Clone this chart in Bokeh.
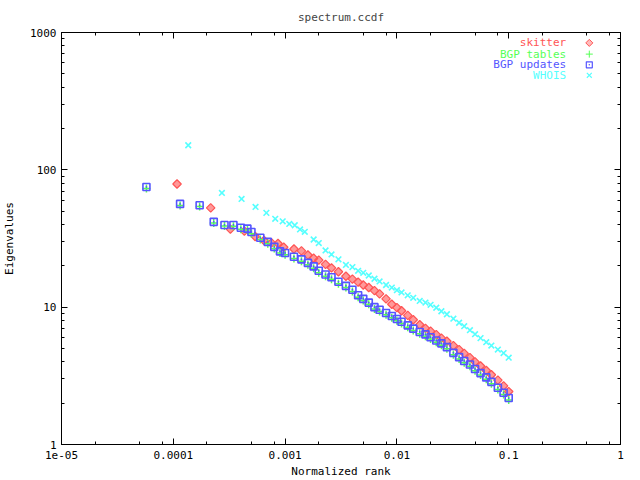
import numpy as np
from bokeh.plotting import figure
from bokeh.models import FixedTicker, LogAxis
from bokeh.core.properties import value
from bokeh.embed import file_html
from bokeh.resources import INLINE

# ---------------- data ----------------
chart_title = "spectrum.ccdf"
series_names = ["skitter", "BGP tables", "BGP updates", "WHOIS"]

skitter_x = [1.08e-4, 2.16e-4, 3.24e-4, 4.32e-4, 5.4e-4, 6.48e-4, 7.56e-4, 8.64e-4, 9.72e-4,
             1.2e-3, 1.4e-3, 1.6e-3, 1.8e-3, 2e-3, 2.3e-3, 2.6e-3, 3e-3, 3.5e-3, 4e-3, 4.5e-3, 5e-3,
             5.6e-3, 6.3e-3, 7e-3, 8e-3, 9e-3, 0.01, 0.011, 0.0125, 0.014, 0.016, 0.018, 0.02,
             0.0225, 0.025, 0.028, 0.032, 0.036, 0.04, 0.045, 0.05, 0.056, 0.063, 0.07, 0.08, 0.09, 0.1]
skitter_y = [78.9, 52.8, 37.0, 35.8, 32.7, 30.6, 29.4, 29.1, 27.3,
             26.5, 25.7, 24.0, 22.7, 22.0, 20.5, 19.3, 18.1, 16.8, 16.0, 15.2, 14.5,
             13.9, 13.2, 12.5, 11.5, 10.5, 9.93, 9.42, 8.71, 8.10, 7.45, 7.01, 6.69,
             6.31, 5.95, 5.65, 5.25, 4.91, 4.61, 4.29, 4.00, 3.73, 3.46, 3.22, 2.94, 2.67, 2.43]

bgp_x = [5.75e-5, 1.15e-4, 1.72e-4, 2.3e-4, 2.87e-4, 3.45e-4, 4.02e-4, 4.6e-4,
         5e-4, 6e-4, 7e-4, 8e-4, 9e-4, 1e-3, 1.2e-3, 1.4e-3, 1.6e-3, 1.8e-3, 2e-3,
         2.3e-3, 2.6e-3, 3e-3, 3.5e-3, 4e-3, 4.5e-3, 5e-3, 5.6e-3, 6.3e-3, 7e-3, 8e-3, 9e-3,
         0.01, 0.011, 0.0125, 0.014, 0.016, 0.018, 0.02, 0.0225, 0.025, 0.028, 0.032, 0.036, 0.04,
         0.045, 0.05, 0.056, 0.063, 0.07, 0.08, 0.09, 0.1]
bgp_tables_y = [73.0, 55.0, 54.0, 41.0, 39.0, 38.8, 37.0, 36.5,
                34.3, 31.1, 29.0, 26.7, 24.8, 24.1, 22.6, 21.6, 20.4, 19.2, 17.8,
                16.8, 16.0, 14.8, 13.9, 13.0, 11.8, 11.2, 10.5, 9.7, 9.28, 8.79, 8.37,
                7.96, 7.60, 7.15, 6.77, 6.40, 6.15, 5.86, 5.55, 5.29, 4.97, 4.51, 4.20, 3.94,
                3.71, 3.44, 3.21, 2.99, 2.77, 2.51, 2.31, 2.11]
bgp_updates_y = [75.0, 56.5, 55.2, 41.8, 39.7, 39.7, 37.9, 37.3,
                 35.25, 32.0, 29.9, 27.5, 25.5, 24.8, 23.3, 22.3, 21.0, 19.8, 18.4,
                 17.3, 16.5, 15.3, 14.3, 13.4, 12.2, 11.5, 10.8, 10.0, 9.57, 9.06, 8.63,
                 8.21, 7.83, 7.37, 6.98, 6.60, 6.34, 6.04, 5.72, 5.45, 5.12, 4.65, 4.33, 4.06,
                 3.82, 3.55, 3.31, 3.08, 2.86, 2.59, 2.38, 2.18]

whois_x = [1.36e-4, 2.72e-4, 4.08e-4, 5.44e-4, 6.8e-4, 8.16e-4, 9.52e-4, 1.09e-3, 1.22e-3, 1.36e-3, 1.5e-3,
           1.8e-3, 2e-3, 2.3e-3, 2.6e-3, 3e-3, 3.5e-3, 4e-3, 4.5e-3, 5e-3,
           5.6e-3, 6.3e-3, 7e-3, 8e-3, 9e-3, 0.01, 0.011, 0.0125, 0.014, 0.016, 0.018, 0.02,
           0.0225, 0.025, 0.028, 0.032, 0.036, 0.04, 0.045, 0.05, 0.056, 0.063, 0.07, 0.08, 0.09, 0.1]
whois_y = [151.0, 67.9, 61.4, 53.7, 48.6, 44.0, 42.2, 40.4, 39.5, 36.8, 35.4,
           31.1, 29.3, 25.9, 24.2, 22.3, 20.3, 19.6, 18.4, 17.8,
           17.0, 16.1, 15.4, 14.5, 13.9, 13.3, 12.8, 12.2, 11.7, 11.1, 10.8, 10.4,
           9.90, 9.34, 8.88, 8.24, 7.70, 7.27, 6.80, 6.36, 5.95, 5.56, 5.25, 4.91, 4.63, 4.29]

x_ticks = [1e-5, 1e-4, 1e-3, 1e-2, 1e-1, 1.0]
x_tick_labels = ["1e-05", "0.0001", "0.001", "0.01", "0.1", "1"]
y_ticks = [1.0, 10.0, 100.0, 1000.0]
y_tick_labels = ["1", "10", "100", "1000"]

# ---------------- styling ----------------
RED, GREEN, BLUE, CYAN = "#ff5555", "#55ff55", "#5555ff", "#55ffff"
FONT = "DejaVu Sans Mono"
FS = "11px"

x_minor = [m * d for d in x_ticks[:-1] for m in (2, 5, 8)]
y_minor = [m * d for d in y_ticks[:-1] for m in range(2, 10)]

p = figure(width=640, height=480, x_axis_type="log", y_axis_type="log",
           x_range=(1e-5, 1.0), y_range=(1.0, 1000.0),
           output_backend="svg", toolbar_location=None,
           min_border_left=58, min_border_right=20, min_border_top=32, min_border_bottom=34,
           title=chart_title)
p.xgrid.visible = False
p.ygrid.visible = False
p.outline_line_color = "black"
p.background_fill_color = "white"
p.border_fill_color = "white"
p.title.align = "center"
p.title.vertical_align = "top"
p.title.text_font = FONT
p.title.text_font_size = FS
p.title.text_font_style = "normal"
p.title.standoff = 14


def style_axis(ax, ticks, minor, labels, show):
    ax.ticker = FixedTicker(ticks=ticks, minor_ticks=minor)
    ax.major_tick_in = 6
    ax.major_tick_out = 0
    ax.minor_tick_in = 3
    ax.minor_tick_out = 0
    ax.axis_line_color = "black"
    ax.major_tick_line_color = "black"
    ax.minor_tick_line_color = "black"
    if show:
        ax.major_label_overrides = dict(zip(ticks, labels))
        ax.major_label_text_font = FONT
        ax.major_label_text_font_size = FS
        ax.major_label_text_color = "black"
        ax.axis_label_text_font = FONT
        ax.axis_label_text_font_size = FS
        ax.axis_label_text_font_style = "normal"
        ax.axis_label_text_color = "black"
    else:
        ax.major_label_text_font_size = "1px"
        ax.major_label_text_alpha = 0
        ax.major_label_standoff = 0


style_axis(p.xaxis[0], x_ticks, x_minor, x_tick_labels, True)
style_axis(p.yaxis[0], y_ticks, y_minor, y_tick_labels, True)
p.xaxis[0].axis_label = "Normalized rank"
p.yaxis[0].axis_label = "Eigenvalues"
p.xaxis[0].major_label_standoff = 6
p.xaxis[0].axis_label_standoff = 3
p.yaxis[0].major_label_standoff = 5
p.yaxis[0].axis_label_standoff = 11

top_ax = LogAxis()
style_axis(top_ax, x_ticks, x_minor, x_tick_labels, False)
p.add_layout(top_ax, "above")
right_ax = LogAxis()
style_axis(right_ax, y_ticks, y_minor, y_tick_labels, False)
p.add_layout(right_ax, "right")

# ---------------- series ----------------
p.scatter(skitter_x, skitter_y, marker="square", angle=np.pi / 4, size=6,
          line_color=RED, fill_color=RED, fill_alpha=0.6, line_width=1.2)
p.scatter(bgp_x, bgp_tables_y, marker="cross", size=8, line_color=GREEN, line_width=1.5)
p.scatter(bgp_x, bgp_updates_y, marker="square_dot", size=7, line_color=BLUE,
          fill_alpha=0, line_width=1.6)
p.scatter(whois_x, whois_y, marker="x", size=8, line_color=CYAN, line_width=1.6)

# ---------------- legend (label right-aligned, symbol at right) ----------------
leg_sym_x = 0.526
leg_txt_x = 0.3265
leg_rows = [840.0, 696.0, 582.0, 488.0]
colors = [RED, GREEN, BLUE, CYAN]
p.text(x=[leg_txt_x] * 4, y=leg_rows, text=series_names, text_color=colors,
       text_align="right", text_baseline="middle",
       text_font=value(FONT), text_font_size=FS)
p.scatter([leg_sym_x], [leg_rows[0]], marker="square", angle=np.pi / 4, size=5,
          line_color=RED, fill_color=RED, fill_alpha=0.4)
p.scatter([leg_sym_x], [leg_rows[1]], marker="cross", size=7, line_color=GREEN)
p.scatter([leg_sym_x], [leg_rows[2]], marker="square_dot", size=6, line_color=BLUE,
          fill_alpha=0, line_width=1.2)
p.scatter([leg_sym_x], [leg_rows[3]], marker="x", size=7, line_color=CYAN, line_width=1.2)

open("out.html", "w").write(file_html(p, INLINE))
